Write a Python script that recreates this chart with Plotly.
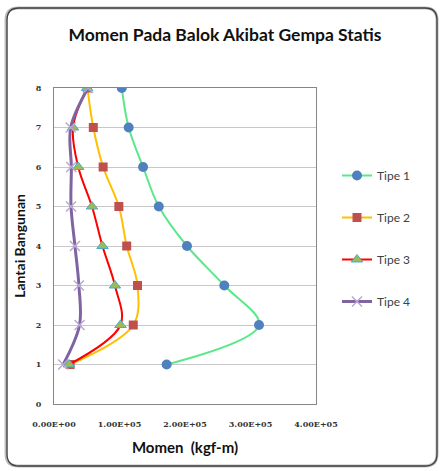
import plotly.graph_objects as go

# Storey levels (Lantai) and beam moments per type (kgf-m)
lantai = [1, 2, 3, 4, 5, 6, 7, 8]
tipe_1 = [1.72e5, 3.13e5, 2.60e5, 2.03e5, 1.60e5, 1.36e5, 1.14e5, 1.035e5]
tipe_2 = [0.245e5, 1.21e5, 1.275e5, 1.11e5, 0.99e5, 0.75e5, 0.60e5, 0.51e5]
tipe_3 = [0.23e5, 1.015e5, 0.93e5, 0.74e5, 0.58e5, 0.37e5, 0.29e5, 0.505e5]
tipe_4 = [0.14e5, 0.39e5, 0.38e5, 0.32e5, 0.26e5, 0.265e5, 0.255e5, 0.52e5]

x_ticks = [0, 1e5, 2e5, 3e5, 4e5]
x_tick_labels = ["0.00E+00", "1.00E+05", "2.00E+05", "3.00E+05", "4.00E+05"]
y_ticks = [0, 1, 2, 3, 4, 5, 6, 7, 8]

W, H = 441, 471
ML, MR, MT, MB = 54, 125, 88, 67
PW, PH = W - ML - MR, H - MT - MB


def px(x):
    return (x - ML) / PW


def py(y):
    return (H - MB - y) / PH


def rounded_rect(x0, y0, x1, y1, r):
    rx, ry = r / PW, r / PH
    a, b, c, d = px(x0), py(y0), px(x1), py(y1)
    return (f"M {a + rx},{b} L {c - rx},{b} Q {c},{b} {c},{b - ry} "
            f"L {c},{d + ry} Q {c},{d} {c - rx},{d} L {a + rx},{d} "
            f"Q {a},{d} {a},{d + ry} L {a},{b - ry} Q {a},{b} {a + rx},{b} Z")


series = [
    ("Tipe 1", tipe_1, "#5BE88A", 2, dict(symbol="circle", size=10, color="#4F81BD")),
    ("Tipe 2", tipe_2, "#FFC000", 2, dict(symbol="square", size=9, color="#C0504D")),
    ("Tipe 3", tipe_3, "#FF0000", 2, dict(symbol="triangle-up", size=10, color="#9BBB59",
                                         line=dict(color="#4BACC6", width=1))),
    ("Tipe 4", tipe_4, "#8064A2", 3, dict(symbol="x-thin", size=10,
                                         line=dict(color="#B9A8D4", width=1.5))),
]

fig = go.Figure()
for i, (name, vals, lc, lw, mk) in enumerate(series):
    fig.add_trace(go.Scatter(
        x=vals, y=lantai, name=name, mode="lines+markers",
        line=dict(color=lc, width=lw, shape="spline", smoothing=1.0),
        marker=mk, legendgroup=f"g{i}",
    ))

fig.update_layout(
    width=W, height=H,
    margin=dict(l=ML, r=MR, t=MT, b=MB),
    paper_bgcolor="white", plot_bgcolor="white",
    font=dict(family="Lato, Open Sans, sans-serif", color="#222222"),
    title=dict(text="<b>Momen Pada Balok Akibat Gempa Statis</b>",
               x=225 / W, xanchor="center", xref="container",
               y=1 - 35 / H, yanchor="middle", yref="container",
               font=dict(size=17.5, color="#111111")),
    showlegend=True,
    legend=dict(x=px(337), xanchor="left", y=py(161), yanchor="top",
                font=dict(size=12, color="#404040"), tracegroupgap=23,
                bgcolor="rgba(0,0,0,0)", itemwidth=30),
    xaxis=dict(range=[0, 4e5], tickvals=x_ticks, ticktext=x_tick_labels,
               showgrid=False, zeroline=False, showline=True, linecolor="#868686",
               linewidth=1, mirror=True, ticks="", ticklabelstandoff=12,
               tickfont=dict(family="DejaVu Serif", size=8, color="#333333", weight="bold"),
               title=dict(text="<b>Momen  (kgf-m)</b>", standoff=14,
                          font=dict(size=15, color="#111111"))),
    yaxis=dict(range=[0, 8], tickvals=y_ticks, showgrid=True, gridcolor="#C8C8C8",
               gridwidth=1.3, zeroline=False, showline=True, linecolor="#868686",
               linewidth=1, mirror=True, ticks="", ticklabelstandoff=10,
               tickfont=dict(family="DejaVu Serif", size=8, color="#333333", weight="bold"),
               title=dict(text="<b>Lantai Bangunan</b>", standoff=6,
                          font=dict(size=14, color="#111111"))),
    shapes=[
        dict(type="path", xref="paper", yref="paper", layer="below",
             path=rounded_rect(6, 8, 437, 466, 12),
             line=dict(color="#BDBDBD", width=3)),
        dict(type="path", xref="paper", yref="paper", layer="below",
             path=rounded_rect(7, 8, 437, 466, 12),
             line=dict(color="#404040", width=1.3)),
    ],
)

fig.write_html("out.html")
